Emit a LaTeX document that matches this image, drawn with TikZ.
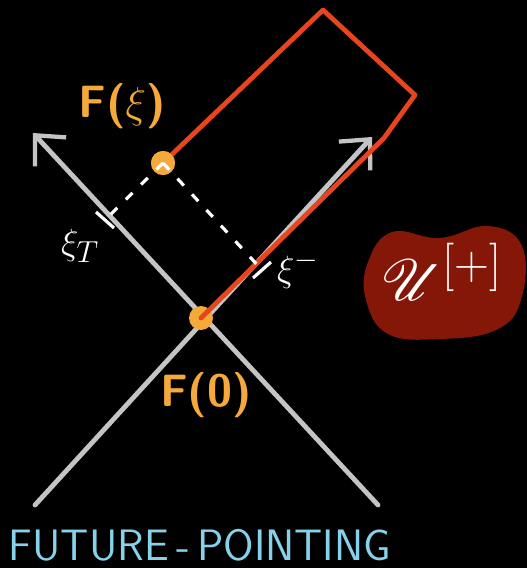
\documentclass[tikz,border=0pt]{standalone}
\usepackage{fontspec}
\usepackage{mathrsfs}
\usetikzlibrary{arrows.meta,calc}
\definecolor{chalkorange}{HTML}{F4A93A}
\definecolor{chalkred}{HTML}{E8451E}
\definecolor{chalkgray}{HTML}{C4C4C4}
\definecolor{chalkblue}{HTML}{86D2EA}
\definecolor{blobred}{HTML}{841707}
\tikzset{
  cone/.style={draw=chalkgray, line width=3.6pt, line cap=round, -{Straight Barb[length=17pt, width=32pt, line width=3.2pt]}},
  tube/.style={draw=chalkred, line width=3.6pt, line join=round, line cap=round},
  sep/.style={draw=white, line width=2.4pt, dash pattern=on 7pt off 9pt},
  dot/.style={circle, fill=chalkorange, inner sep=0pt, minimum size=18pt},
  chalk/.style={font=\sffamily\bfseries\fontsize{34}{38}\selectfont, text=chalkorange}
}
\begin{document}
\begin{tikzpicture}[x=0.75pt, y=-0.75pt]
  \fill[black] (0,0) rectangle (527,568);
  \useasboundingbox (0,0) rectangle (527,568);

  % light cone
  \coordinate (lb) at (35,505);
  \coordinate (rb) at (378,505);
  \coordinate (lt) at (33,133);
  \coordinate (rt) at (372,137);
  \draw[cone] (rb) -- (lt);
  \draw[cone] (lb) -- (rt);

  % points
  \node[dot] (o) at (201,318) {};
  \node[dot] (fxi) at (163,163) {};

  % worldtube
  \coordinate (c1) at (384,138);
  \coordinate (c2) at (415,95);
  \coordinate (c3) at (323,10);
  \draw[tube] (o.center) -- (c1) -- (c2) -- (c3) -- (fxi.center);
  \node[dot] at (fxi) {};

  % projections
  \coordinate (tl) at (105,220);
  \coordinate (tr) at (262,270);
  \draw[sep] (fxi.center) -- (tl);
  \draw[sep] (fxi.center) -- (tr);
  \draw[white, line width=2.4pt] ($(tl)+(-9,-8)$) -- ($(tl)+(9,8)$);
  \draw[white, line width=2.4pt] ($(tr)+(-9,8)$) -- ($(tr)+(9,-8)$);
  \node[text=white, font=\Huge, scale=1.1] (xt) at (80,246) {$\xi_T$};
  \node[text=white, font=\Huge, scale=1.1] (xm) at (298,270) {$\xi^-$};

  % labels
  \node[chalk] (lfxi) at (122,106) {F(\scalebox{1.3}{$\xi$})};
  \node[chalk] (lo) at (206,395) {F(0)};
  \node[font=\sffamily\fontsize{33}{36}\selectfont, text=chalkblue] (fp) at (200,545) {FUTURE\,-\,POINTING};

  % operator
  \fill[blobred] plot[smooth cycle, tension=0.7] coordinates {(368,262) (392,232) (440,238) (488,226) (522,246) (521,300) (496,330) (440,339) (388,334) (366,300)};
  \node[text=white, font=\Huge, scale=1.75] (u) at (442,272) {$\mathscr{U}^{[+]}$};
\end{tikzpicture}
\end{document}
